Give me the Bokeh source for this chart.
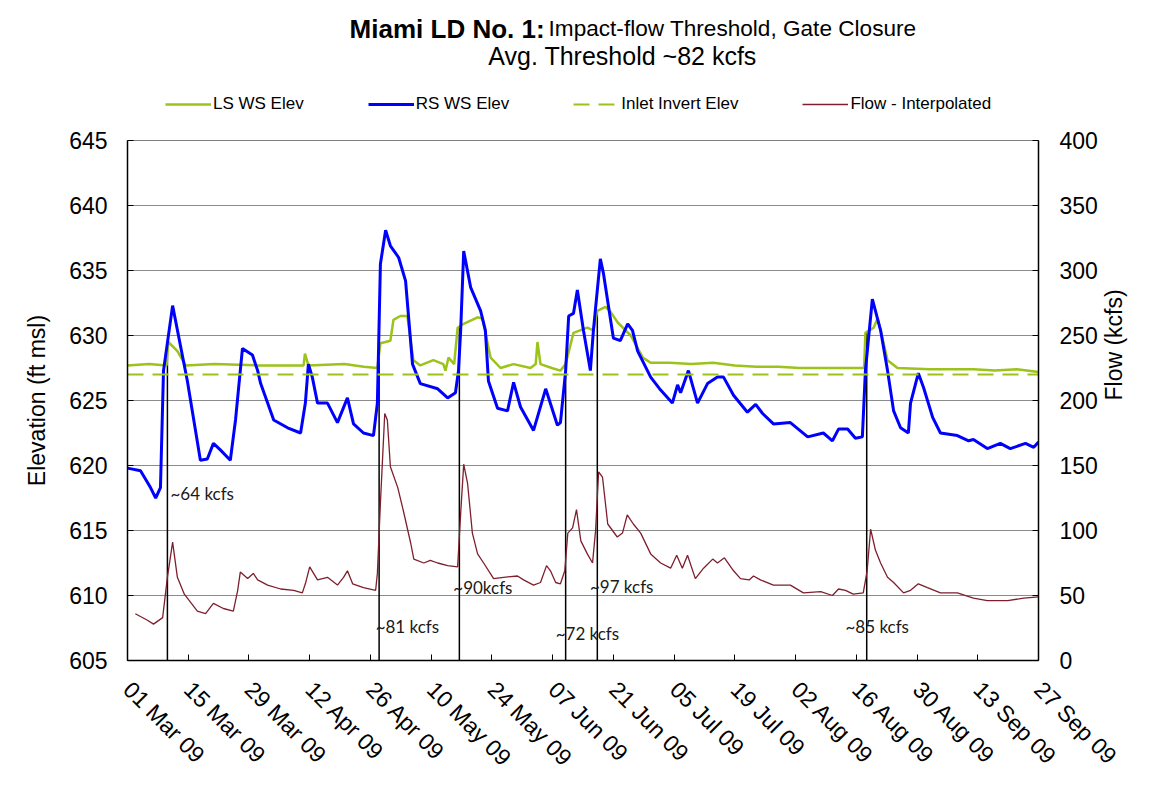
import math
import pandas as pd
from bokeh.plotting import figure
from bokeh.layouts import column
from bokeh.models import (Range1d, LinearAxis, FixedTicker, DatetimeTickFormatter,
                          Legend, LegendItem, ColumnDataSource)
from bokeh.core.properties import value
from bokeh.embed import file_html
from bokeh.resources import INLINE

# ---------------- data ----------------
START = "2009-03-01"
END = "2009-09-27"
tick_dates = ["2009-03-01", "2009-03-15", "2009-03-29", "2009-04-12", "2009-04-26",
              "2009-05-10", "2009-05-24", "2009-06-07", "2009-06-21", "2009-07-05",
              "2009-07-19", "2009-08-02", "2009-08-16", "2009-08-30", "2009-09-13",
              "2009-09-27"]
elev_ticks = [605, 610, 615, 620, 625, 630, 635, 640, 645]
flow_ticks = [0, 50, 100, 150, 200, 250, 300, 350, 400]

# days since 01 Mar 09
ls_days = [0, 5, 9.0, 9.4, 11.5, 13.4, 20, 30, 40.6, 40.9, 41.7, 50, 54.5, 57.6, 58.3, 60.6,
           61.3, 62.9, 64.5, 65.9, 67.5, 70.5, 72.8, 73.3, 74.0, 75.3, 76.1, 77.5, 80.7, 81.8,
           83.7, 86.0, 89.0, 92.9, 94.1, 94.5, 95.2, 97.8, 99.8, 101.0, 102.8, 106.0, 107.4,
           108.3, 110.2, 111.4, 113.0, 116.0, 118.8, 120.6, 125, 130, 135, 140, 145, 150, 155,
           160, 165, 169.8, 170.1, 172.0, 172.9, 173.6, 175.2, 177.5, 185, 195, 200, 205, 210]
ls_elev = [627.7, 627.8, 627.7, 629.5, 628.8, 627.7, 627.8, 627.7, 627.7, 628.6, 627.7, 627.8,
           627.6, 627.5, 629.4, 629.6, 631.2, 631.5, 631.5, 628.1, 627.7, 628.1, 627.8, 627.3,
           628.3, 627.8, 630.6, 630.9, 631.4, 631.3, 628.3, 627.5, 627.8, 627.5, 627.8, 629.5,
           627.8, 627.5, 627.3, 627.8, 630.2, 630.6, 630.4, 631.9, 632.2, 631.8, 631.0, 630.0,
           628.3, 627.9, 627.9, 627.8, 627.9, 627.7, 627.6, 627.6, 627.5, 627.5, 627.5, 627.5,
           630.2, 630.6, 631.3, 630.4, 628.1, 627.5, 627.4, 627.4, 627.3, 627.4, 627.2]

rs_days = [0, 3.0, 5.3, 6.5, 7.6, 8.3, 10.4, 13.8, 16.8, 18.4, 19.8, 21.4, 23.7, 24.9, 26.0,
           26.5, 28.8, 30.0, 30.7, 33.7, 36.9, 39.9, 41.0, 41.7, 42.6, 43.8, 46.1, 48.4, 50.7,
           52.1, 54.4, 56.7, 57.6, 58.3, 59.5, 60.6, 62.5, 64.1, 65.7, 67.5, 71.5, 73.8, 75.6,
           76.3, 76.8, 77.5, 79.1, 81.4, 82.5, 83.2, 85.3, 87.6, 89.0, 90.6, 93.6, 96.4, 99.1,
           99.8, 101.0, 101.7, 102.8, 103.7, 105.1, 106.7, 107.4, 109.0, 109.7, 112.0, 113.6,
           115.3, 116.4, 117.6, 120.6, 122.9, 125.6, 126.8, 127.5, 129.3, 131.4, 133.7, 136.0,
           137.4, 139.7, 142.9, 144.8, 146.4, 148.9, 152.8, 156.8, 160.4, 162.5, 163.9, 166.0,
           167.8, 169.4, 170.1, 171.7, 173.6, 175.2, 176.6, 178.2, 180.0, 180.5, 182.3, 183.5,
           185.6, 187.4, 191.3, 193.9, 195.0, 198.2, 201.2, 203.5, 207.0, 208.9, 210]
rs_elev = [619.8, 619.6, 618.3, 617.5, 618.3, 627.3, 632.3, 626.5, 620.4, 620.5, 621.7, 621.2,
           620.4, 623.5, 627.3, 629.0, 628.5, 627.3, 626.3, 623.5, 622.9, 622.5, 624.8, 627.8,
           626.8, 624.8, 624.8, 623.3, 625.2, 623.2, 622.5, 622.3, 624.8, 635.5, 638.1, 636.9,
           636.0, 634.2, 627.8, 626.3, 625.9, 625.2, 625.6, 627.3, 630.4, 636.5, 633.7, 631.9,
           630.4, 626.5, 624.4, 624.2, 626.4, 624.5, 622.7, 625.9, 623.1, 623.3, 627.3, 631.5,
           631.7, 633.5, 630.4, 627.3, 630.4, 635.9, 634.8, 629.8, 629.6, 630.9, 630.4, 628.8,
           626.8, 625.8, 624.8, 626.2, 625.6, 627.3, 624.8, 626.3, 626.8, 626.8, 625.4, 624.1,
           624.7, 624.0, 623.2, 623.3, 622.2, 622.5, 621.9, 622.8, 622.8, 622.1, 622.2, 627.3,
           632.8, 630.4, 627.3, 624.2, 622.9, 622.5, 624.8, 627.1, 626.0, 623.7, 622.5, 622.3,
           621.9, 622.0, 621.3, 621.7, 621.3, 621.7, 621.4, 621.8]

inlet_days = [0, 210]
inlet_elev = [627.0, 627.0]

flow_days = [1.8, 4.6, 6.0, 8.1, 9.2, 10.4, 11.5, 13.1, 16.1, 18.0, 19.8, 22.1, 24.4, 25.4, 26.0,
             27.7, 29.0, 30.0, 32.3, 35.3, 38.3, 40.3, 41.0, 42.0, 43.8, 46.1, 48.4, 49.8, 50.7,
             51.9, 54.4, 57.2, 57.6, 58.3, 59.3, 59.9, 60.6, 62.3, 63.6, 65.3, 66.0, 68.3, 69.8,
             71.5, 73.8, 76.1, 76.8, 77.5, 78.4, 79.5, 80.7, 82.1, 84.4, 86.7, 89.9, 91.3, 93.6,
             95.2, 96.6, 97.5, 98.7, 99.8, 100.8, 101.5, 102.6, 103.5, 104.5, 106.0, 107.2, 107.9,
             108.6, 109.5, 110.7, 112.9, 114.1, 115.2, 116.6, 118.3, 120.6, 122.9, 125.2, 126.6,
             127.9, 129.1, 130.9, 132.8, 134.9, 136.0, 137.6, 139.7, 141.3, 143.3, 144.3, 145.9,
             148.9, 152.8, 155.8, 159.8, 162.5, 163.9, 165.5, 167.3, 169.6, 170.5, 171.3, 172.4,
             173.6, 175.2, 176.6, 178.9, 180.5, 182.3, 184.4, 187.4, 191.3, 195.0, 198.2, 202.9,
             206.6, 210]
flow_kcfs = [36, 31, 28, 33, 64, 91, 64, 51, 38, 36, 44, 40, 38, 54, 68, 63, 67, 62, 58, 55,
             54, 52, 59, 72, 62, 64, 58, 64, 69, 59, 56, 54, 67, 121, 190, 185, 149, 133, 115, 90,
             78, 75, 77, 75, 73, 72, 113, 151, 136, 98, 82, 75, 63, 64, 65, 62, 58, 60, 73, 69,
             60, 59, 69, 98, 102, 116, 92, 82, 75, 100, 145, 141, 105, 95, 98, 112, 105, 98, 82, 75,
             71, 81, 71, 81, 63, 71, 78, 75, 79, 69, 63, 62, 65, 62, 58, 58, 52, 53, 50, 55,
             54, 51, 52, 69, 101, 85, 75, 64, 60, 52, 54, 59, 56, 52, 52, 48, 46, 46, 48, 49]

# gate closures (impact-flow threshold)
closure_days = [9.2, 58.0, 76.5, 101.0, 108.3, 170.4]
closure_elev = [629.5, 629.5, 630.6, 628.0, 631.9, 630.2]
threshold_text = ["~64 kcfs", "~81 kcfs", "~90kcfs", "~72 kcfs", "~97 kcfs", "~85 kcfs"]

# label anchor positions (days / kcfs)
label_days = [9.9, 57.2, 75.1, 98.7, 106.6, 165.5]
label_flow = [128.7, 26.2, 56.4, 20.8, 56.9, 26.2]

title_bold = "Miami LD No. 1:"
title_rest = "Impact-flow Threshold, Gate Closure"
subtitle = "Avg. Threshold ~82 kcfs"
series_names = ["LS WS Elev", "RS WS Elev", "Inlet Invert Elev", "Flow - Interpolated"]

# ---------------- helpers ----------------
t0 = pd.Timestamp(START)


def to_dt(days):
    return [t0 + pd.Timedelta(days=float(d)) for d in days]


GREEN = "#9CC31A"
BLUE = "#0000FF"
MAROON = "#7E1F2E"
FONT = "Liberation Sans"
W = 1151
HEAD_H = 126
MAIN_H = 656
NAN = float("nan")

# ---------------- header (title + legend) ----------------
head = figure(width=W, height=HEAD_H, x_range=Range1d(0, W), y_range=Range1d(HEAD_H, 0),
              output_backend="svg", toolbar_location=None,
              x_axis_location=None, y_axis_location=None,
              min_border=0, min_border_left=0, min_border_right=0,
              min_border_top=0, min_border_bottom=0)
head.outline_line_color = None
head.background_fill_color = "white"
head.border_fill_color = "white"
head.xgrid.visible = False
head.ygrid.visible = False

head.text(x=[527], y=[28], text=[title_bold], text_align="right", text_baseline="middle",
          text_font=value(FONT), text_font_size=value("26px"), text_font_style="bold",
          text_color="black")
head.text(x=[532], y=[28], text=[title_rest], text_align="left", text_baseline="middle",
          text_font=value(FONT), text_font_size=value("22.6px"), text_color="black")
head.text(x=[625.5], y=[55], text=[subtitle], text_align="center", text_baseline="middle",
          text_font=value(FONT), text_font_size=value("25px"), text_color="black")

# legend swatches (renderers with no visible data, styled like the series)
h_ls = head.line(x=[NAN], y=[NAN], line_color=GREEN, line_width=2.5)
h_rs = head.line(x=[NAN], y=[NAN], line_color=BLUE, line_width=3)
h_in = head.line(x=[NAN], y=[NAN], line_color=GREEN, line_width=2, line_dash="16 9")
h_fl = head.line(x=[NAN], y=[NAN], line_color=MAROON, line_width=1.4)
legend = Legend(items=[LegendItem(label=n, renderers=[r])
                       for n, r in zip(series_names, [h_ls, h_rs, h_in, h_fl])],
                location=(38, 12), orientation="horizontal", padding=0, margin=0,
                spacing=64, glyph_width=46, glyph_height=18, label_standoff=2,
                label_height=18, label_text_font=FONT, label_text_font_size="17px",
                label_text_color="black", border_line_alpha=0, background_fill_alpha=0)
head.add_layout(legend, "center")

# ---------------- main chart ----------------
p = figure(width=W, height=MAIN_H, x_axis_type="datetime",
           x_range=Range1d(pd.Timestamp(START), pd.Timestamp(END)),
           y_range=Range1d(605, 645),
           output_backend="svg", toolbar_location=None,
           min_border_left=127, min_border_right=W - 1038,
           min_border_top=14, min_border_bottom=MAIN_H - 14 - 520)
p.extra_y_ranges = {"flow": Range1d(0, 400)}

p.background_fill_color = "white"
p.border_fill_color = "white"
p.outline_line_color = "#7f7f7f"
p.outline_line_width = 1

right_axis = LinearAxis(y_range_name="flow", axis_label="Flow (kcfs)",
                        ticker=FixedTicker(ticks=flow_ticks))
p.add_layout(right_axis, "right")

p.xaxis[0].ticker = FixedTicker(ticks=[pd.Timestamp(d).value // 10**6 for d in tick_dates])
fmt = "%d %b %y"
p.xaxis[0].formatter = DatetimeTickFormatter(
    microseconds=fmt, milliseconds=fmt, seconds=fmt, minsec=fmt, minutes=fmt,
    hourmin=fmt, hours=fmt, days=fmt, months=fmt, years=fmt)
p.xaxis[0].major_label_orientation = -math.pi / 4
p.xaxis[0].major_label_standoff = 25

left_axis = p.yaxis[0]
left_axis.ticker = FixedTicker(ticks=elev_ticks)
left_axis.axis_label = "Elevation (ft msl)"
left_axis.major_label_standoff = 20
left_axis.axis_label_standoff = 16
right_axis.major_label_standoff = 21
right_axis.axis_label_standoff = 13
try:
    right_axis.axis_label_orientation = math.pi / 2
except Exception:
    pass

for ax in [p.xaxis[0], left_axis, right_axis]:
    ax.axis_line_color = "black"
    ax.axis_line_width = 1.5
    ax.major_tick_in = 6
    ax.major_tick_out = 0
    ax.major_tick_line_color = "black"
    ax.minor_tick_in = 0
    ax.minor_tick_out = 0
    ax.major_label_text_font = FONT
    ax.major_label_text_font_size = "23px"
    ax.major_label_text_color = "black"
    ax.axis_label_text_font = FONT
    ax.axis_label_text_font_size = "23px"
    ax.axis_label_text_font_style = "normal"
    ax.axis_label_text_color = "black"

p.xgrid.grid_line_color = None
p.ygrid.ticker = FixedTicker(ticks=elev_ticks)
p.ygrid.grid_line_color = "#8c8c8c"
p.ygrid.grid_line_width = 1

# gate-closure markers
p.segment(x0=to_dt(closure_days), y0=[elev_ticks[0]] * len(closure_days),
          x1=to_dt(closure_days), y1=closure_elev, line_color="black", line_width=1.5)

# series
p.line(to_dt(ls_days), ls_elev, line_color=GREEN, line_width=2.5)
p.line(to_dt(rs_days), rs_elev, line_color=BLUE, line_width=3)
p.line(to_dt(inlet_days), inlet_elev, line_color=GREEN, line_width=2, line_dash="16 9")
p.line(to_dt(flow_days), flow_kcfs, line_color=MAROON, line_width=1.3, y_range_name="flow")

# threshold labels
src = ColumnDataSource(dict(x=to_dt(label_days), y=label_flow, t=threshold_text))
p.text(x="x", y="y", text="t", source=src, y_range_name="flow",
       text_font=value("Lato"), text_font_size=value("17px"), text_color="#1a1a1a",
       text_align="left", text_baseline="middle")

layout = column(head, p, spacing=0)
open("out.html", "w").write(file_html(layout, INLINE))
